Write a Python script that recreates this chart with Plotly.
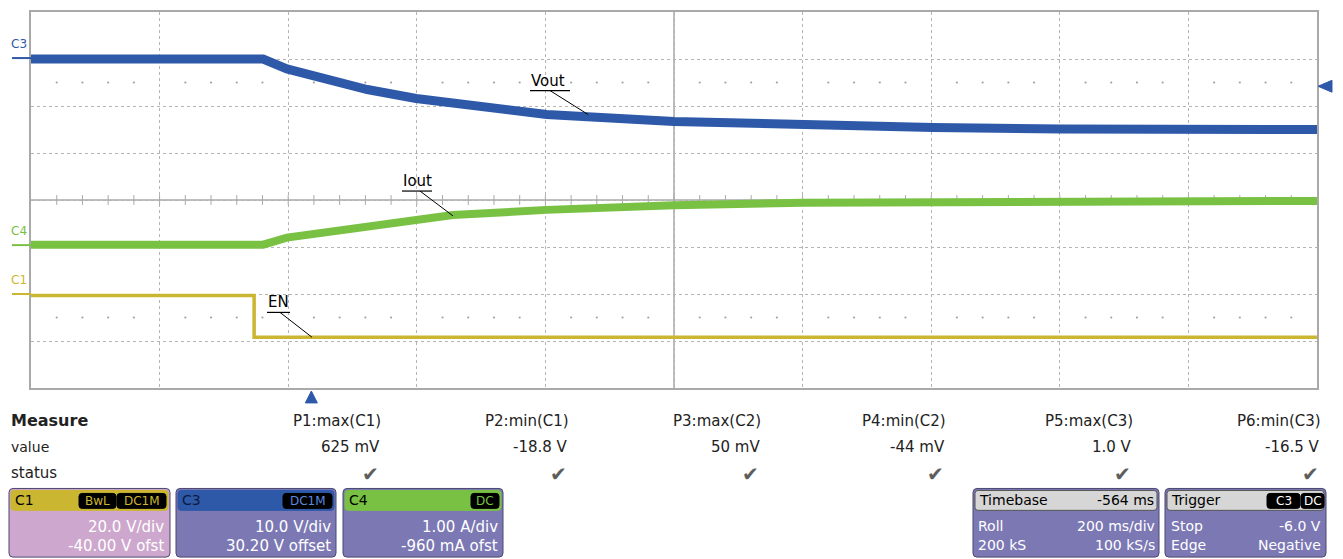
import plotly.graph_objects as go
import numpy as np

# ---------------- data ----------------
# time axis: 200 ms/div, 10 div, trigger delay -564 ms  -> ms relative to trigger
T_LEFT, T_RIGHT = -436, 1564
MS_PER_DIV = 200

# channel settings (scale per div, offset)
c3_vdiv, c3_offset = 10.0, 30.20     # Vout
c4_adiv, c4_offset = 1.00, -0.960    # Iout
c1_vdiv, c1_offset = 20.0, -40.0     # EN

# C3 : Vout [V]
vout_t = [-436, -75, -38, 34, 87, 163, 216, 366, 564, 765, 967, 1166, 1365, 1564]
vout_v = [-0.2, -0.2, -2.3, -5.0, -6.7, -8.6, -9.5, -12.0, -13.5, -14.3, -14.75, -15.1, -15.2, -15.2]

# C4 : Iout [A]
iout_t = [-436, -75, -38, 34, 87, 163, 220, 366, 564, 765, 967, 1166, 1365, 1564]
iout_a = [0.01, 0.01, 0.16, 0.30, 0.39, 0.54, 0.64, 0.75, 0.85, 0.90, 0.91, 0.93, 0.94, 0.94]

# C1 : EN [V]
en_t = [-436, -89, 1564]
en_v = [-0.6, -18.4, -18.4]

trig_t, trig_level = 0, -6.0

meas_names = ["P1:max(C1)", "P2:min(C1)", "P3:max(C2)", "P4:min(C2)", "P5:max(C3)", "P6:min(C3)"]
meas_values = ["625 mV", "-18.8 V", "50 mV", "-44 mV", "1.0 V", "-16.5 V"]

# ---------------- style ----------------
BLUE = "#2e59a8"
GREEN = "#79c143"
YELLOW = "#cbb631"
GRID = "#b4b4b4"
FRAME = "#a9a9a9"
BODY = "#7c78b4"
PINK = "#cda7cd"
FONT = "DejaVu Sans"

PAGE_OFF = 8                      # default body margin of the html page
W, H = 1343 - PAGE_OFF, 559 - PAGE_OFF
PX0, PX1, PY0, PY1 = 31, 1317, 10, 388   # plot area in window pixels
PX_PER_DIV_X = (PX1 - PX0) / 10
PX_PER_DIV_Y = (PY1 - PY0) / 8


def P(px, py):
    return (px - PX0) / (PX1 - PX0), (PY1 - py) / (PY1 - PY0)


def rrect(x0, y0, x1, y1, r):
    pts = [("M", x0 + r, y0), ("L", x1 - r, y0), ("Q", x1, y0, x1, y0 + r),
           ("L", x1, y1 - r), ("Q", x1, y1, x1 - r, y1), ("L", x0 + r, y1),
           ("Q", x0, y1, x0, y1 - r), ("L", x0, y0 + r), ("Q", x0, y0, x0 + r, y0)]
    s = ""
    for p in pts:
        cmd = p[0]
        coords = p[1:]
        parts = []
        for i in range(0, len(coords), 2):
            a, b = P(coords[i], coords[i + 1])
            parts.append(f"{a:.5f},{b:.5f}")
        s += cmd + " " + " ".join(parts) + " "
    return s + "Z"


fig = go.Figure()

# ---------------- graticule decorations ----------------
step = MS_PER_DIV / 5
xs_all = np.arange(T_LEFT + step, T_RIGHT, step)
xs_minor = [x for x in xs_all if abs(((x - T_LEFT) / MS_PER_DIV) - round((x - T_LEFT) / MS_PER_DIV)) > 1e-6]
fig.add_trace(go.Scatter(x=list(xs_all), y=[0] * len(xs_all), mode="markers",
                         marker=dict(symbol="line-ns", size=7, line=dict(width=1, color=FRAME)),
                         hoverinfo="skip", yaxis="y"))
for yy in (2.5, -2.5):
    fig.add_trace(go.Scatter(x=xs_minor, y=[yy] * len(xs_minor), mode="markers",
                             marker=dict(symbol="circle", size=2.2, color="#a0a0a0"),
                             hoverinfo="skip", yaxis="y"))

# ---------------- waveforms ----------------
fig.add_trace(go.Scatter(x=vout_t, y=vout_v, mode="lines", yaxis="y2",
                         line=dict(color=BLUE, width=9), name="Vout"))
fig.add_trace(go.Scatter(x=iout_t, y=iout_a, mode="lines", yaxis="y3",
                         line=dict(color=GREEN, width=8), name="Iout"))
fig.add_trace(go.Scatter(x=en_t, y=en_v, mode="lines", yaxis="y4",
                         line=dict(color=YELLOW, width=3.5, shape="hv"), name="EN"))

shapes = []
annotations = []

# trigger time marker (below the grid, at trigger time)
half_w = 6 / PX_PER_DIV_X * MS_PER_DIV
ya = P(0, 391)[1]
yb = P(0, 403)[1]
shapes.append(dict(type="path", xref="x", yref="paper",
                   path=f"M {trig_t},{ya:.5f} L {trig_t + half_w},{yb:.5f} L {trig_t - half_w},{yb:.5f} Z",
                   fillcolor=BLUE, line=dict(color=BLUE, width=1)))
# trigger level marker (right of the grid, at trigger level on C3)
half_h = 6 / PX_PER_DIV_Y * c3_vdiv
xa = P(1318, 0)[0]
xb = P(1332, 0)[0]
shapes.append(dict(type="path", xref="paper", yref="y2",
                   path=f"M {xa:.5f},{trig_level} L {xb:.5f},{trig_level + half_h} L {xb:.5f},{trig_level - half_h} Z",
                   fillcolor=BLUE, line=dict(color=BLUE, width=1)))

# center lines
shapes.append(dict(type="line", xref="x", yref="paper", x0=(T_LEFT + T_RIGHT) / 2, x1=(T_LEFT + T_RIGHT) / 2,
                   y0=0, y1=1, line=dict(color=FRAME, width=1.5), layer="below"))
shapes.append(dict(type="line", xref="paper", yref="y", x0=0, x1=1, y0=0, y1=0,
                   line=dict(color=FRAME, width=1.5), layer="below"))

# channel zero markers + labels
for name, ax, col in (("C3", "y2", BLUE), ("C4", "y3", GREEN), ("C1", "y4", YELLOW)):
    x_start, _ = P(12, 0)
    shapes.append(dict(type="line", xref="paper", yref=ax, x0=x_start, x1=0, y0=0, y1=0,
                       line=dict(color=col, width=2)))
    annotations.append(dict(xref="paper", yref=ax, x=P(9, 0)[0], y=0, yshift=14, text=name,
                            showarrow=False, xanchor="left", yanchor="middle",
                            font=dict(family=FONT, size=12, color=col)))

# waveform labels with underline and leader
for txt_, tx, ty, ux1, lx0, lx1, ly1 in (("Vout", 530, 79, 570, 550, 588, 113),
                                           ("Iout", 402, 180, 432, 420, 453, 215),
                                           ("EN", 267, 302, 290, 280, 312, 337)):
    uy = ty + 10
    a0 = P(tx, uy); a1 = P(ux1, uy)
    shapes.append(dict(type="line", xref="paper", yref="paper", x0=a0[0], y0=a0[1], x1=a1[0], y1=a1[1],
                       line=dict(color="black", width=1.2)))
    b0 = P(lx0, uy); b1 = P(lx1, ly1)
    shapes.append(dict(type="line", xref="paper", yref="paper", x0=b0[0], y0=b0[1], x1=b1[0], y1=b1[1],
                       line=dict(color="black", width=1)))
    p = P(tx - 1, ty)
    annotations.append(dict(xref="paper", yref="paper", x=p[0], y=p[1], text=txt_, showarrow=False,
                            xanchor="left", yanchor="middle", font=dict(family=FONT, size=15, color="black")))


# ---------------- measurement table ----------------
def txt(px, py, s, anchor="left", size=14, color="black", bold=False):
    x, y = P(px, py)
    annotations.append(dict(xref="paper", yref="paper", x=x, y=y, text=f"<b>{s}</b>" if bold else s,
                            showarrow=False, xanchor=anchor, yanchor="middle",
                            font=dict(family=FONT, size=size, color=color)))


txt(9, 421, "Measure", bold=True, size=16, color="#222222")
txt(9, 447, "value", size=14, color="#222222")
txt(9, 473, "status", size=15, color="#222222")
col_right = [383, 571, 763, 948, 1135, 1323]
for cr, nm, vv in zip(col_right, meas_names, meas_values):
    txt(cr, 421, nm, anchor="right", size=15, color="#222222")
    txt(cr - 1, 447, vv, anchor="right", size=15, color="#222222")
    txt(cr - 2, 474, "✔", anchor="right", size=20, color="#5e5e5e")


# ---------------- channel / timebase boxes ----------------
def box(x0, x1, head_col, body_col, head_line):
    shapes.append(dict(type="path", xref="paper", yref="paper", path=rrect(x0, 489, x1, 558, 4),
                       fillcolor=body_col, line=dict(color="#4a4870", width=1)))
    shapes.append(dict(type="path", xref="paper", yref="paper", path=rrect(x0 + 2, 491, x1 - 2, 511, 3),
                       fillcolor=head_col, line=dict(color=head_line, width=1)))


def tag(x0, x1, s, col):
    shapes.append(dict(type="path", xref="paper", yref="paper", path=rrect(x0, 494, x1, 509, 3),
                       fillcolor="black", line=dict(color="black", width=1)))
    txt((x0 + x1) / 2, 501.5, s, anchor="center", size=12, color=col)


box(9, 170, YELLOW, PINK, YELLOW)
txt(13, 501, "C1", size=14)
tag(79, 116, "BwL", YELLOW)
tag(117, 166, "DC1M", YELLOW)
txt(166, 528, "20.0 V/div", anchor="right", size=15, color="white")
txt(166, 547, "-40.00 V ofst", anchor="right", size=15, color="white")

box(176, 336, BLUE, BODY, BLUE)
txt(180, 501, "C3", size=14, color="#0b1a40")
tag(283, 332, "DC1M", "#5a88de")
txt(333, 528, "10.0 V/div", anchor="right", size=15, color="white")
txt(333, 547, "30.20 V offset", anchor="right", size=15, color="white")

box(343, 503, GREEN, BODY, GREEN)
txt(347, 501, "C4", size=14)
tag(471, 499, "DC", GREEN)
txt(500, 528, "1.00 A/div", anchor="right", size=15, color="white")
txt(500, 547, "-960 mA ofst", anchor="right", size=15, color="white")

box(973, 1159, "#d6d6d6", BODY, "#555555")
txt(977, 501, "Timebase", size=14)
txt(1156, 501, "-564 ms", anchor="right", size=14)
txt(976, 527, "Roll", size=14, color="white")
txt(1157, 527, "200 ms/div", anchor="right", size=14, color="white")
txt(976, 546, "200 kS", size=14, color="white")
txt(1157, 546, "100 kS/s", anchor="right", size=14, color="white")

box(1165, 1326, "#d6d6d6", BODY, "#555555")
txt(1169, 501, "Trigger", size=14)
tag(1267, 1300, "C3", "white")
tag(1301, 1324, "DC", "white")
txt(1169, 527, "Stop", size=14, color="white")
txt(1323, 527, "-6.0 V", anchor="right", size=14, color="white")
txt(1169, 546, "Edge", size=14, color="white")
txt(1323, 546, "Negative", anchor="right", size=14, color="white")

# ---------------- layout ----------------
axis_common = dict(showticklabels=False, ticks="", zeroline=False, showgrid=True, griddash="dot",
                   gridcolor=GRID, gridwidth=1, showline=True, mirror=True, linecolor=FRAME,
                   linewidth=2, fixedrange=True)

fig.update_layout(
    width=W, height=H,
    margin=dict(l=PX0 - PAGE_OFF, r=(W + PAGE_OFF) - PX1, t=PY0 - PAGE_OFF, b=(H + PAGE_OFF) - PY1, pad=0),
    paper_bgcolor="white", plot_bgcolor="white",
    showlegend=False, hovermode=False,
    xaxis=dict(range=[T_LEFT, T_RIGHT], tick0=T_LEFT, dtick=MS_PER_DIV, **axis_common),
    yaxis=dict(range=[-4, 4], tick0=0, dtick=1, **axis_common),
    yaxis2=dict(range=[-c3_offset - 4 * c3_vdiv, -c3_offset + 4 * c3_vdiv], overlaying="y", visible=False,
                fixedrange=True),
    yaxis3=dict(range=[-c4_offset - 4 * c4_adiv, -c4_offset + 4 * c4_adiv], overlaying="y", visible=False,
                fixedrange=True),
    yaxis4=dict(range=[-c1_offset - 4 * c1_vdiv, -c1_offset + 4 * c1_vdiv], overlaying="y", visible=False,
                fixedrange=True),
    shapes=shapes,
    annotations=annotations,
)

fig.write_html("out.html")
